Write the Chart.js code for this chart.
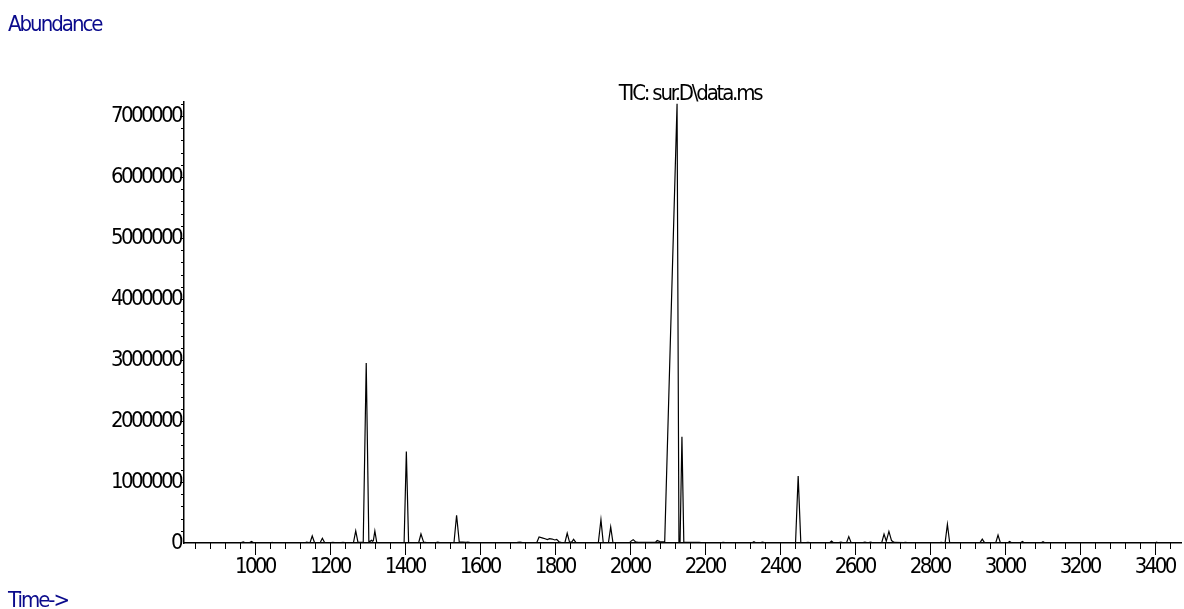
<!DOCTYPE html>
<html>
<head>
<meta charset="utf-8">
<script src="https://cdn.jsdelivr.net/npm/chart.js@4/dist/chart.umd.min.js"></script>
<style>
html,body{margin:0;padding:0;background:#fff;}
#wrap{width:1184px;height:609px;position:relative;}
</style>
</head>
<body>
<div id="wrap"><canvas id="c" width="1184" height="609"></canvas></div>
<script>
// Retention time (x) and abundance (y)
const retentionTimes = [815,960,969,976,984,991,998,1040,1046,1052,1132,1138,1144,1147,1153,1159,1174,1180,1186,1203,1208,1213,1230,1235,1240,1263,1269,1275,1289,1297,1304,1308,1311,1314,1316,1320,1325,1398,1404,1410,1437,1443,1450,1458,1483,1488,1493,1531,1538,1545,1555,1563,1568,1575,1690,1700,1707,1714,1752,1758,1766,1774,1780,1786,1793,1800,1805,1811,1818,1827,1833,1839,1845,1850,1856,1916,1923,1929,1943,1949,1955,2000,2004,2009,2015,2022,2068,2073,2080,2088,2093,2126,2131,2134,2139,2144,2160,2180,2185,2190,2244,2249,2254,2326,2331,2336,2349,2354,2359,2442,2449,2456,2470,2475,2480,2533,2538,2543,2558,2563,2568,2578,2584,2590,2622,2627,2632,2637,2642,2647,2672,2678,2684,2691,2698,2705,2730,2735,2740,2826,2831,2835,2841,2847,2853,2934,2940,2946,2976,2982,2988,3008,3013,3018,3042,3047,3052,3097,3102,3107,3400,3405,3410,3468];
const abundance = [0,0,20000,0,0,25000,0,0,12000,0,0,15000,5000,5000,115000,8000,5000,77000,8000,5000,12000,5000,5000,12000,5000,8000,197000,10000,10000,2950000,20000,30000,45000,30000,40000,197000,10000,8000,1500000,10000,8000,148000,15000,5000,5000,15000,5000,5000,455000,20000,15000,10000,15000,5000,5000,10000,15000,5000,10000,100000,85000,70000,55000,70000,65000,50000,60000,20000,8000,10000,160000,20000,15000,60000,10000,5000,383000,10000,5000,263000,8000,10000,35000,55000,20000,10000,10000,40000,25000,20000,20000,7200000,20000,20000,1740000,15000,10000,10000,12000,5000,5000,12000,5000,5000,22000,5000,5000,15000,5000,5000,1100000,10000,5000,10000,5000,5000,32000,5000,5000,15000,5000,5000,105000,10000,5000,15000,5000,5000,15000,8000,10000,145000,30000,190000,40000,10000,5000,10000,5000,5000,10000,8000,10000,307000,8000,5000,62000,5000,5000,130000,8000,5000,25000,5000,5000,25000,5000,5000,20000,5000,0,15000,0,0];
const xTickLabels = [1000,1200,1400,1600,1800,2000,2200,2400,2600,2800,3000,3200,3400];
const yTickLabels = [0,1000000,2000000,3000000,4000000,5000000,6000000,7000000];
const chartTitle = 'TIC: sur.D\\data.ms';
const yAxisTitle = 'Abundance';
const xAxisTitle = 'Time->';

const FONT = '"DejaVu Sans Condensed", "Liberation Sans", sans-serif';
const SPACING = '-2.6px';
const X_MIN = 811, X_MAX = 3470, Y_MAX = 7230000;

const points = retentionTimes.map((t, i) => ({x: t, y: abundance[i]}));

const decor = {
  id: 'decor',
  beforeDraw(chart) {
    chart.ctx.letterSpacing = SPACING;
  },
  afterDraw(chart) {
    const ctx = chart.ctx;
    const xs = chart.scales.x, ys = chart.scales.y;
    ctx.save();
    ctx.strokeStyle = '#000';
    ctx.lineWidth = 1;
    const y0 = ys.getPixelForValue(0);
    for (let v = 840; v <= X_MAX; v += 40) {
      const px = Math.round(xs.getPixelForValue(v)) + 0.5;
      const len = (v % 200 === 0) ? 12 : 6;
      ctx.beginPath(); ctx.moveTo(px, y0); ctx.lineTo(px, y0 + len); ctx.stroke();
    }
    const ax = xs.left;
    for (let v = 200000; v <= Y_MAX; v += 200000) {
      const py = Math.round(ys.getPixelForValue(v)) + 0.5;
      const len = (v % 1000000 === 0) ? 4 : 3;
      ctx.beginPath(); ctx.moveTo(ax - len, py); ctx.lineTo(ax, py); ctx.stroke();
    }
    ctx.letterSpacing = '-2.2px';
    ctx.fillStyle = '#000';
    ctx.font = '22px ' + FONT;
    ctx.textAlign = 'center';
    ctx.textBaseline = 'alphabetic';
    ctx.fillText(chartTitle, 690, 100);
    ctx.letterSpacing = '-2px';
    ctx.fillStyle = '#0a0a8c';
    ctx.textAlign = 'left';
    ctx.fillText(yAxisTitle, 8, 31);
    ctx.fillText(xAxisTitle, 8, 607);
    ctx.restore();
  }
};

new Chart(document.getElementById('c'), {
  type: 'line',
  data: {
    datasets: [{
      data: points,
      borderColor: '#000',
      borderWidth: 1.2,
      pointRadius: 0,
      tension: 0,
      fill: false
    }]
  },
  options: {
    responsive: false,
    animation: false,
    devicePixelRatio: 1,
    layout: {padding: {top: 102, right: 3, left: 0, bottom: 0}},
    plugins: {legend: {display: false}, tooltip: {enabled: false}, title: {display: false}},
    scales: {
      x: {
        type: 'linear',
        min: X_MIN, max: X_MAX,
        grid: {display: false},
        border: {display: true, color: '#000', width: 1.5},
        afterBuildTicks: s => { s.ticks = xTickLabels.map(v => ({value: v})); },
        afterFit: s => { s.height = 66; s.paddingLeft = 0; s.paddingRight = 0; },
        ticks: {
          autoSkip: false, maxRotation: 0, padding: 3,
          color: '#000',
          font: {family: FONT, size: 22},
          callback: v => String(v)
        }
      },
      y: {
        type: 'linear',
        min: 0, max: Y_MAX,
        grid: {display: false, drawTicks: false},
        border: {display: true, color: '#000', width: 1.5},
        afterBuildTicks: s => { s.ticks = yTickLabels.map(v => ({value: v})); },
        afterFit: s => { s.width = 184; s.paddingTop = 0; s.paddingBottom = 0; },
        ticks: {
          autoSkip: false, padding: 3,
          color: '#000',
          font: {family: FONT, size: 22},
          callback: v => String(v)
        }
      }
    }
  },
  plugins: [decor]
});
</script>
</body>
</html>
